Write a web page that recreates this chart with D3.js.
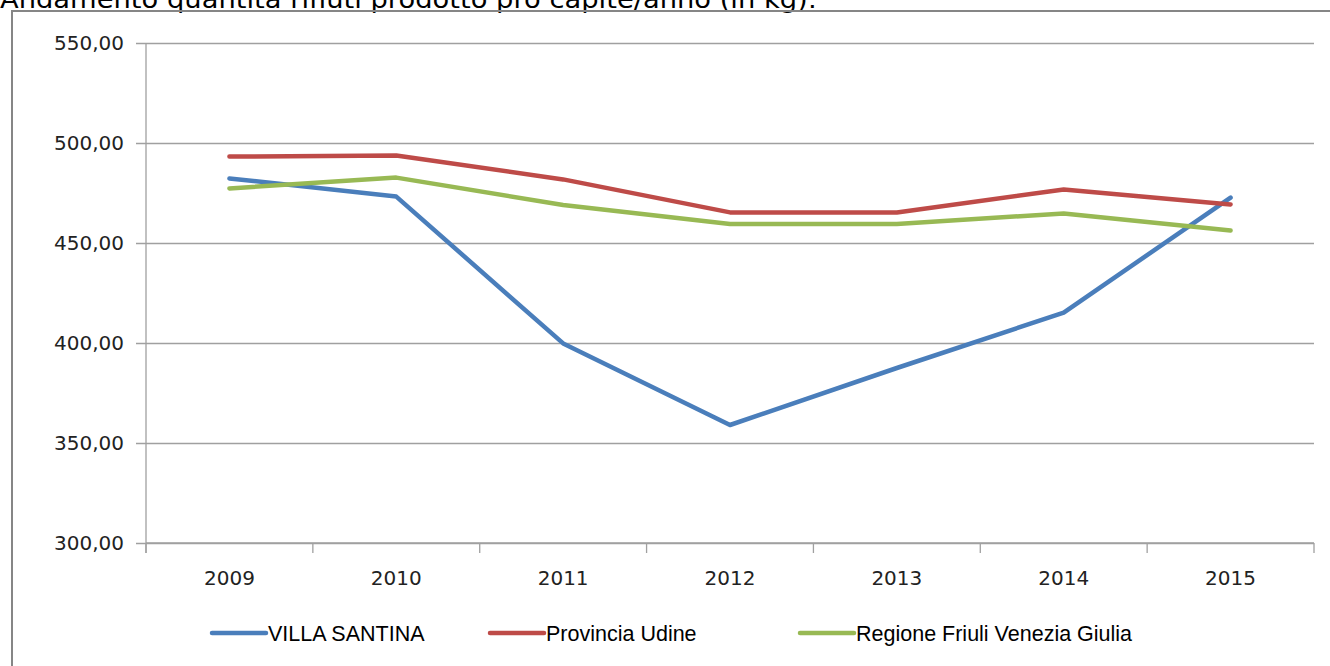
<!DOCTYPE html>
<html lang="it">
<head>
    <meta charset="UTF-8">
    <title>Andamento quantità rifiuti prodotto pro capite/anno</title>
    <script src="https://d3js.org/d3.v7.min.js"></script>
    <style>
        body { margin: 0; background: #fff; }
        svg { display: block; }
    </style>
</head>
<body>
    <svg id="chart"></svg>

    <script>
        const years = ["2009", "2010", "2011", "2012", "2013", "2014", "2015"];
        const villaSantina = [482.3, 473.2, 399.8, 359.0, 387.5, 415.2, 472.7];
        const provinciaUdine = [493.2, 493.8, 481.8, 465.3, 465.3, 476.8, 469.3];
        const regioneFVG = [477.3, 482.7, 469.0, 459.5, 459.5, 464.8, 456.2];
        const yTicks = [300, 350, 400, 450, 500, 550];

        const series = [
            { name: "VILLA SANTINA", values: villaSantina, color: "#4A7EBB" },
            { name: "Provincia Udine", values: provinciaUdine, color: "#BE4B48" },
            { name: "Regione Friuli Venezia Giulia", values: regioneFVG, color: "#98B954" }
        ];

        const width = 1330;
        const height = 666;
        const plotLeft = 146, plotRight = 1314, plotTop = 43, plotBottom = 543;

        const svg = d3.select("#chart")
            .attr("width", width)
            .attr("height", height);

        // title, mostly cut off at the top
        svg.append("text")
            .attr("x", 0)
            .attr("y", 8)
            .attr("textLength", 817)
            .attr("lengthAdjust", "spacingAndGlyphs")
            .style("font-family", "'DejaVu Sans', sans-serif")
            .style("font-size", "25px")
            .attr("fill", "#000")
            .text("Andamento quantità rifiuti prodotto pro capite/anno (in kg):");

        // chart frame
        svg.append("path")
            .attr("d", `M12,${height} V11 H${width}`)
            .attr("fill", "none")
            .attr("stroke", "#868686")
            .attr("stroke-width", 2);

        const x = d3.scaleBand()
            .domain(years)
            .range([plotLeft, plotRight])
            .padding(0);

        const y = d3.scaleLinear()
            .domain([300, 550])
            .range([plotBottom, plotTop]);

        const cx = d => x(d) + x.bandwidth() / 2;

        // horizontal gridlines + y labels
        const yAxis = d3.axisLeft(y)
            .tickValues(yTicks)
            .tickSize(-(plotRight - plotLeft))
            .tickPadding(22)
            .tickFormat(d => d3.format(".2f")(d).replace(".", ","));

        svg.append("g")
            .attr("transform", `translate(${plotLeft},0)`)
            .call(yAxis)
            .call(g => g.select(".domain").remove())
            .call(g => g.selectAll(".tick line")
                .attr("x1", -10)
                .attr("stroke", "#a0a0a0")
                .attr("stroke-width", 1.3))
            .call(g => g.selectAll(".tick text")
                .style("font-family", "'DejaVu Sans', sans-serif")
                .style("font-size", "20px")
                .attr("fill", "#222"));

        // y axis line
        svg.append("line")
            .attr("x1", plotLeft).attr("x2", plotLeft)
            .attr("y1", plotTop).attr("y2", plotBottom + 10)
            .attr("stroke", "#a0a0a0")
            .attr("stroke-width", 1.3);

        // x axis: ticks at category boundaries
        const xg = svg.append("g")
            .attr("transform", `translate(0,${plotBottom})`);

        xg.append("line")
            .attr("x1", plotLeft).attr("x2", plotRight)
            .attr("stroke", "#a0a0a0")
            .attr("stroke-width", 1.3);

        xg.selectAll("line.tk")
            .data(years.concat(["end"]))
            .enter()
            .append("line")
            .attr("class", "tk")
            .attr("x1", d => d === "end" ? plotRight : x(d))
            .attr("x2", d => d === "end" ? plotRight : x(d))
            .attr("y1", 0).attr("y2", 10)
            .attr("stroke", "#a0a0a0")
            .attr("stroke-width", 1.3);

        xg.selectAll("text")
            .data(years)
            .enter()
            .append("text")
            .attr("x", d => cx(d))
            .attr("y", 42)
            .attr("text-anchor", "middle")
            .style("font-family", "'DejaVu Sans', sans-serif")
            .style("font-size", "20px")
            .attr("fill", "#222")
            .text(d => d);

        // lines
        const line = d3.line()
            .x((d, i) => cx(years[i]))
            .y(d => y(d));

        svg.selectAll("path.series")
            .data(series)
            .enter()
            .append("path")
            .attr("class", "series")
            .attr("d", d => line(d.values))
            .attr("fill", "none")
            .attr("stroke", d => d.color)
            .attr("stroke-width", 4.5)
            .attr("stroke-linejoin", "round")
            .attr("stroke-linecap", "round");

        // legend
        const legendX = [212, 490, 800];
        const legend = svg.selectAll("g.legend")
            .data(series)
            .enter()
            .append("g")
            .attr("class", "legend")
            .attr("transform", (d, i) => `translate(${legendX[i]},633)`);

        legend.append("line")
            .attr("x1", 0).attr("x2", 54)
            .attr("stroke", d => d.color)
            .attr("stroke-width", 4.5)
            .attr("stroke-linecap", "round");

        legend.append("text")
            .attr("x", 56)
            .attr("y", 8)
            .style("font-family", "'Liberation Sans', sans-serif")
            .style("font-size", "21.5px")
            .attr("fill", "#000")
            .text(d => d.name);
    </script>
</body>
</html>
